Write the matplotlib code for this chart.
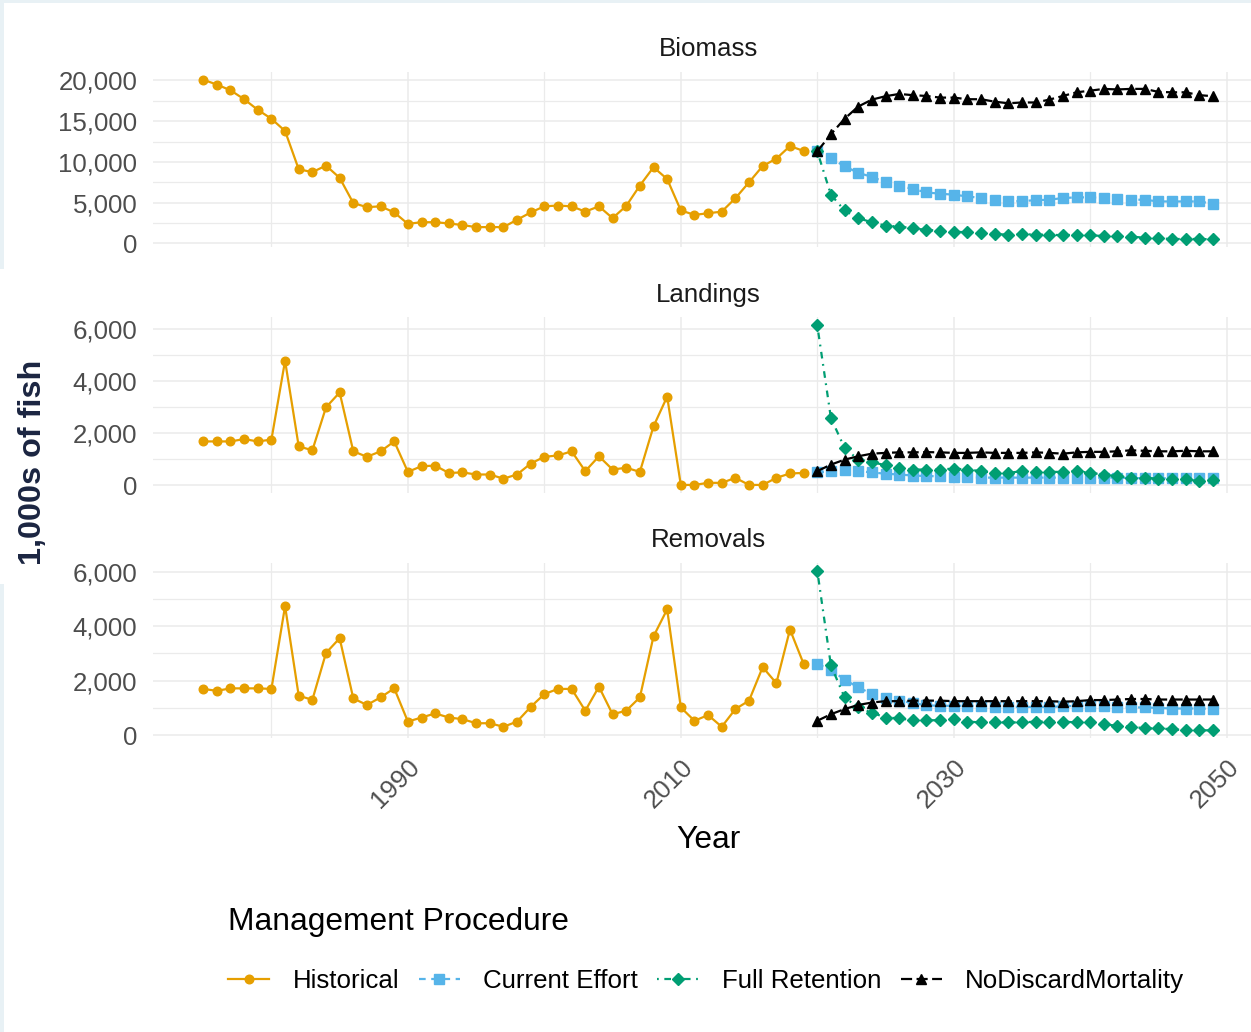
import numpy as np
import matplotlib
matplotlib.use("Agg")
import matplotlib.pyplot as plt
from matplotlib.ticker import FuncFormatter, MultipleLocator
from matplotlib.patches import Rectangle

plt.rcParams['font.family'] = ['Liberation Sans', 'DejaVu Sans']

#years: assessment period and projection period
hist_years = np.arange(1975, 2020)
proj_years = np.arange(2020, 2050)

#biomass (1,000s of fish)
biomass_hist = [20100, 19500, 18800, 17700, 16400, 15300, 13800, 9100, 8750, 9550,
                8050, 4950, 4450, 4550, 3800, 2400, 2600, 2600, 2450, 2250,
                2000, 2000, 2000, 2900, 3800, 4550, 4650, 4550, 3900, 4550,
                3100, 4600, 7100, 9350, 7900, 4050, 3500, 3700, 3900, 5550,
                7500, 9500, 10400, 11950, 11350]
biomass_current = [11300, 10430, 9480, 8660, 8170, 7500, 7090, 6680, 6260, 6100,
                   5980, 5770, 5570, 5360, 5150, 5200, 5300, 5360, 5570, 5650,
                   5650, 5570, 5450, 5360, 5360, 5150, 5150, 5150, 5150, 4860]
biomass_full = [11300, 5980, 4040, 3090, 2600, 2180, 2060, 1860, 1650, 1560,
                1440, 1360, 1240, 1150, 1070, 1150, 1070, 1070, 1000, 1070,
                1000, 900, 900, 830, 700, 620, 540, 540, 540, 500]
biomass_nodm = [11300, 13400, 15300, 16800, 17650, 18070, 18350, 18200, 18100, 17900,
                17900, 17700, 17700, 17400, 17200, 17300, 17300, 17650, 18100, 18550,
                18750, 18970, 18900, 18970, 18970, 18600, 18550, 18550, 18200, 18070]

#landings
landings_hist = [1690, 1690, 1690, 1780, 1690, 1760, 4790, 1500, 1350, 3000,
                 3570, 1310, 1100, 1310, 1690, 520, 740, 760, 480, 500,
                 420, 420, 260, 420, 840, 1100, 1150, 1310, 550, 1120,
                 610, 680, 520, 2270, 3410, 20, 20, 100, 100, 290,
                 20, 20, 290, 460, 480]
landings_current = [500, 550, 580, 550, 500, 450, 420, 380, 360, 350,
                    330, 320, 300, 300, 300, 300, 300, 300, 300, 300,
                    300, 300, 300, 280, 280, 280, 270, 270, 270, 270]
landings_full = [6150, 2590, 1440, 990, 890, 780, 680, 610, 610, 610,
                 650, 610, 550, 480, 480, 550, 520, 520, 520, 550,
                 480, 420, 360, 290, 290, 260, 260, 230, 170, 190]
landings_nodm = [550, 800, 990, 1120, 1220, 1250, 1270, 1270, 1280, 1270,
                 1250, 1250, 1270, 1250, 1250, 1250, 1270, 1250, 1220, 1270,
                 1290, 1290, 1310, 1350, 1330, 1310, 1310, 1330, 1310, 1310]

#removals (landings + dead discards)
removals_hist = [1700, 1630, 1720, 1720, 1720, 1700, 4740, 1450, 1300, 3020,
                 3560, 1350, 1110, 1390, 1720, 500, 650, 800, 650, 590,
                 440, 440, 310, 500, 1040, 1510, 1700, 1700, 900, 1780,
                 770, 900, 1390, 3630, 4620, 1020, 530, 740, 310, 960,
                 1270, 2500, 1910, 3880, 2620]
removals_current = [2620, 2400, 2040, 1760, 1510, 1350, 1270, 1180, 1100, 1080,
                    1080, 1080, 1060, 1040, 1040, 1040, 1040, 1040, 1060, 1080,
                    1080, 1060, 1040, 1020, 1020, 1000, 980, 980, 980, 960]
removals_full = [6040, 2560, 1390, 1020, 830, 650, 620, 550, 550, 550,
                 590, 500, 470, 470, 470, 470, 500, 500, 500, 470,
                 470, 410, 340, 320, 250, 250, 220, 180, 180, 180]
removals_nodm = [530, 770, 960, 1110, 1200, 1250, 1250, 1270, 1270, 1270,
                 1250, 1250, 1250, 1250, 1250, 1250, 1250, 1250, 1230, 1250,
                 1290, 1290, 1310, 1330, 1330, 1310, 1310, 1310, 1310, 1310]

procedures = ['Historical', 'Current Effort', 'Full Retention', 'NoDiscardMortality']
colors = ['#E69F00', '#56B4E9', '#009E73', '#000000']
markers = ['o', 's', 'D', '^']
msizes = [6.2, 6.8, 6.2, 7.5]
dashes = [None, (3, 2.5), (0.8, 2.5, 3, 2.5), (5, 2)]

panels = [
    ('Biomass', [biomass_hist, biomass_current, biomass_full, biomass_nodm], 5000),
    ('Landings', [landings_hist, landings_current, landings_full, landings_nodm], 2000),
    ('Removals', [removals_hist, removals_current, removals_full, removals_nodm], 2000),
]

W, H = 1251, 1032
fig = plt.figure(figsize=(W / 100, H / 100), dpi=100)

small = 18.6
base = 22.9
grid_col = '#EBEBEB'

left = 152.7 / W
width = (1263.5 - 152.7) / W
height = 175.6 / H
tops = [71.7, 317.3, 562.7]

axes = []
for i, (name, series, step) in enumerate(panels):
    bottom = 1 - (tops[i] + 175.6) / H
    ax = fig.add_axes([left, bottom, width, height], sharex=axes[0] if axes else None)
    axes.append(ax)
    for j, vals in enumerate(series):
        yrs = hist_years if j == 0 else proj_years
        line, = ax.plot(yrs, vals, color=colors[j], marker=markers[j], ms=msizes[j],
                        lw=1.6, label=procedures[j], mec=colors[j])
        if dashes[j] is not None:
            line.set_dashes(dashes[j])
    ax.margins(x=0.05, y=0.05)
    ax.yaxis.set_major_locator(MultipleLocator(step))
    ax.yaxis.set_minor_locator(MultipleLocator(step / 2))
    ax.yaxis.set_major_formatter(FuncFormatter(lambda v, p: f'{v:,.0f}'))
    ax.set_xticks([1990, 2010, 2030, 2050])
    ax.set_xticks([1980, 2000, 2020, 2040], minor=True)
    ax.grid(which='major', color=grid_col, lw=1.1)
    ax.grid(which='minor', color=grid_col, lw=0.9)
    ax.set_axisbelow(True)
    for s in ax.spines.values():
        s.set_visible(False)
    ax.tick_params(which='both', length=0, labelsize=small, labelcolor='#4D4D4D', pad=11)
    ax.set_title(name, fontsize=small, color='#1A1A1A', pad=11)
    if i < 2:
        ax.tick_params(labelbottom=False)

axes[0].set_xlim(1971.3, 2052.7)
for lab in axes[2].get_xticklabels():
    lab.set_rotation(45)
    lab.set_ha('right')
    lab.set_va('top')
    lab.set_rotation_mode('anchor')
axes[2].tick_params(axis='x', pad=12)
axes[2].set_xlabel('Year', fontsize=base, color='black', labelpad=9)

fig.text(33 / W, 1 - 462 / H, '1,000s of fish', rotation=90, ha='center', va='center',
         fontsize=23.3, fontweight='bold', color='#1B2541')

handles, labels = axes[2].get_legend_handles_labels()
fig.legend(handles, labels, loc='upper left', bbox_to_anchor=(228 / W, 1 - 907 / H),
           ncol=4, frameon=False, title='Management Procedure', title_fontsize=base,
           fontsize=small, alignment='left', handlelength=1.6, handletextpad=0.9,
           columnspacing=0.75, labelspacing=1.25, borderpad=0, borderaxespad=0)

#thin light frame along the top and left edges
edge = '#E8F1F5'
fig.add_artist(Rectangle((0, 1 - 3 / H), 1, 3 / H, transform=fig.transFigure,
                         color=edge, lw=0, zorder=-1))
fig.add_artist(Rectangle((0, 0), 4 / W, (H - 584) / H, transform=fig.transFigure,
                         color=edge, lw=0, zorder=-1))
fig.add_artist(Rectangle((0, (H - 269) / H), 4 / W, 269 / H, transform=fig.transFigure,
                         color=edge, lw=0, zorder=-1))

fig.savefig('out.png', dpi=100)
